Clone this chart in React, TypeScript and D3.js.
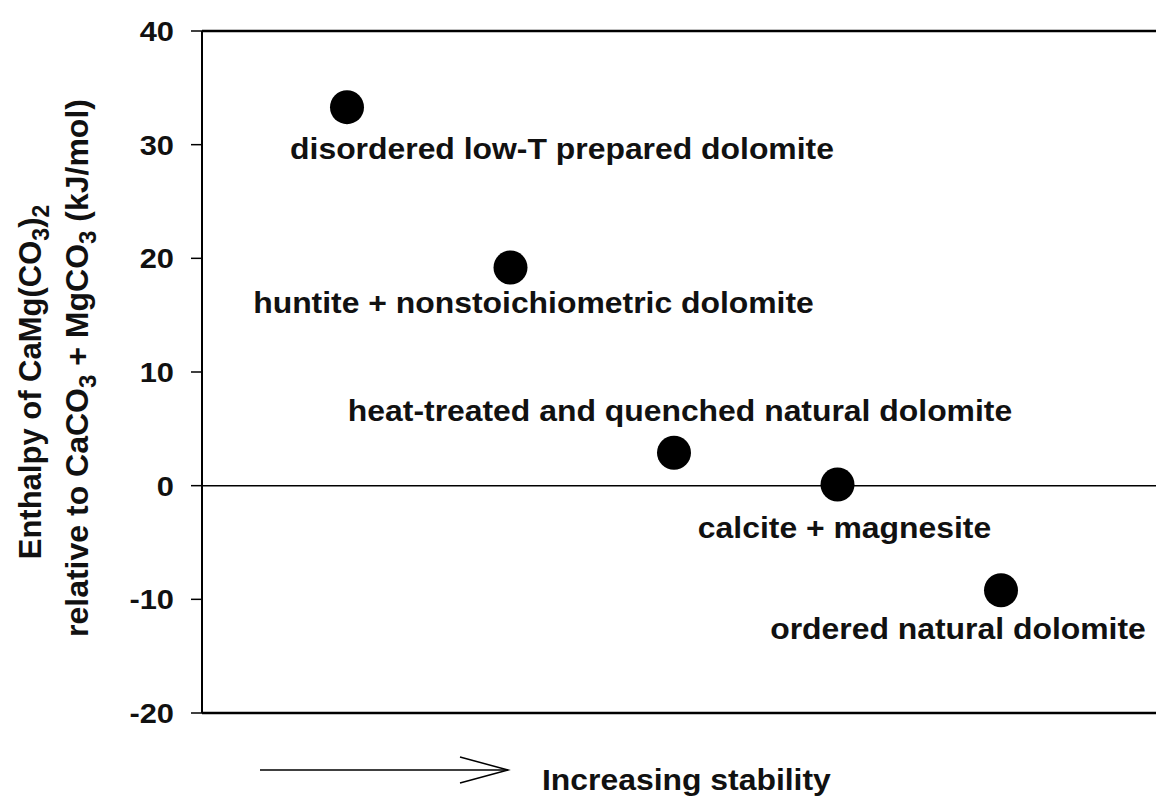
import React, { useEffect, useRef } from "react";
import * as d3 from "d3";

// samples ordered by increasing stability
const labels = [
  "disordered low-T prepared dolomite",
  "huntite + nonstoichiometric dolomite",
  "heat-treated and quenched natural dolomite",
  "calcite + magnesite",
  "ordered natural dolomite",
];
const rank = [1, 2, 3, 4, 5];
const enthalpy = [33.3, 19.2, 2.9, 0.1, -9.2];
const yTicks = [40, 30, 20, 10, 0, -10, -20];

const W = 1156;
const H = 800;
const FONT = "'Liberation Sans', Arial, Helvetica, sans-serif";
const SX = 1.1; // the scanned lettering is a little wider than Arial

const App = () => {
  const ref = useRef<SVGSVGElement>(null);

  useEffect(() => {
    const svg = d3.select(ref.current);
    svg.selectAll("*").remove();

    const left = 202;
    const right = W;
    const y = d3.scaleLinear().domain([-20, 40]).range([713, 31]);
    const x = d3.scaleLinear().domain([1, 5]).range([347, 1001]);

    const g = svg.append("g").attr("font-family", FONT).attr("font-weight", "bold").attr("fill", "#111");

    // frame: left axis, top, zero line, bottom
    g.append("line")
      .attr("x1", left).attr("x2", left)
      .attr("y1", y(40)).attr("y2", y(-20))
      .attr("stroke", "#000").attr("stroke-width", 2);
    [40, 0, -20].forEach(v => {
      g.append("line")
        .attr("x1", left).attr("x2", right)
        .attr("y1", y(v)).attr("y2", y(v))
        .attr("stroke", "#000").attr("stroke-width", v === 0 ? 1.5 : 2.5);
    });

    // y ticks
    const ticks = g.append("g");
    ticks.selectAll("line").data(yTicks).join("line")
      .attr("x1", left - 11).attr("x2", left)
      .attr("y1", d => y(d)).attr("y2", d => y(d))
      .attr("stroke", "#000").attr("stroke-width", 1.5);
    ticks.selectAll("text").data(yTicks).join("text")
      .attr("transform", d => `translate(174,${y(d)}) scale(${SX},1)`)
      .attr("dy", "0.36em")
      .attr("text-anchor", "end")
      .attr("font-size", 28)
      .text(d => d);

    // y-axis title, two rotated lines
    const t1 = g.append("text")
      .attr("transform", "translate(41,382) rotate(-90)")
      .attr("text-anchor", "middle").attr("font-size", 31);
    t1.append("tspan").text("Enthalpy of CaMg(CO");
    t1.append("tspan").attr("dy", 8).attr("font-size", 23).text("3");
    t1.append("tspan").attr("dy", -8).text(")");
    t1.append("tspan").attr("dy", 8).attr("font-size", 23).text("2");

    const t2 = g.append("text")
      .attr("transform", "translate(88,368) rotate(-90)")
      .attr("text-anchor", "middle").attr("font-size", 32);
    t2.append("tspan").text("relative to CaCO");
    t2.append("tspan").attr("dy", 8).attr("font-size", 24).text("3");
    t2.append("tspan").attr("dy", -8).text(" + MgCO");
    t2.append("tspan").attr("dy", 8).attr("font-size", 24).text("3");
    t2.append("tspan").attr("dy", -8).text(" (kJ/mol)");

    // points
    g.selectAll("circle").data(enthalpy).join("circle")
      .attr("cx", (d, i) => x(rank[i]))
      .attr("cy", d => y(d))
      .attr("r", 17)
      .attr("fill", "#000");

    // labels, baseline offset from their point
    const labelOffset = [
      [215, 52], [23, 46], [6, -32], [7, 53], [-43, 49],
    ];
    g.selectAll("text.lbl").data(labels).join("text")
      .attr("class", "lbl")
      .attr("transform", (d, i) =>
        `translate(${x(rank[i]) + labelOffset[i][0]},${y(enthalpy[i]) + labelOffset[i][1]}) scale(${SX},1)`)
      .attr("text-anchor", "middle")
      .attr("font-size", 29)
      .text(d => d);

    // x "axis": increasing stability arrow
    g.append("line")
      .attr("x1", 260).attr("x2", 508).attr("y1", 770).attr("y2", 770)
      .attr("stroke", "#000").attr("stroke-width", 1.5);
    g.append("path")
      .attr("d", "M460,757 L508,770 L460,783")
      .attr("fill", "none").attr("stroke", "#000").attr("stroke-width", 1.5);
    g.append("text")
      .attr("transform", `translate(542,790) scale(${SX},1)`)
      .attr("font-size", 29)
      .text("Increasing stability");
  }, []);

  return <svg ref={ref} width={W} height={H} style={{ position: "absolute", left: 0, top: 0 }} />;
};

export default App;
